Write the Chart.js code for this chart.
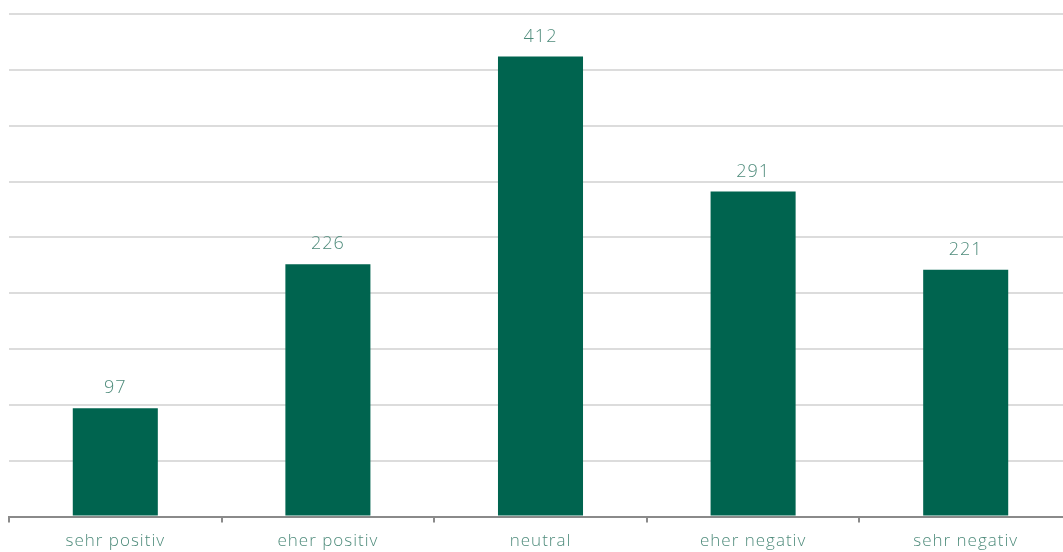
<!DOCTYPE html>
<html>
<head>
<meta charset="utf-8">
<script src="https://cdn.jsdelivr.net/npm/chart.js@4"></script>
<style>
  html, body { margin: 0; padding: 0; background: #fff; overflow: hidden; }
  #wrap { position: absolute; left: 0; top: 0; width: 1072px; height: 559px; }
</style>
</head>
<body>
<div id="wrap"><canvas id="barchart"></canvas></div>
<script>
var categories = ["sehr positiv", "eher positiv", "neutral", "eher negativ", "sehr negativ"]
var counts = [97, 226, 412, 291, 221]

var barColor = "#00644F"
var textColor = "#4E8B7B"
var fontFamily = "'Open Sans', sans-serif"

// the original font is wide and airy, so spread the letters a little
var spacing = {
    id: "spacing",
    beforeDraw: function (chart) {
        chart.ctx.letterSpacing = "1px"
    }
}

// draws the number above each bar
var valueLabels = {
    id: "valueLabels",
    afterDatasetsDraw: function (chart) {
        var ctx = chart.ctx
        var meta = chart.getDatasetMeta(0)
        ctx.save()
        ctx.font = "300 18px " + fontFamily
        ctx.fillStyle = textColor
        ctx.textAlign = "center"
        ctx.textBaseline = "bottom"
        meta.data.forEach(function (bar, i) {
            ctx.fillText(counts[i], bar.x, bar.y - 11)
        })
        ctx.restore()
    }
}

var ctx = document.getElementById("barchart").getContext("2d")
var chart = new Chart(ctx, {
    type: "bar",
    data: {
        labels: categories,
        datasets: [{
            data: counts,
            backgroundColor: barColor,
            barPercentage: 0.8,
            categoryPercentage: 0.5
        }]
    },
    options: {
        responsive: true,
        maintainAspectRatio: false,
        animation: false,
        layout: { padding: { left: 9, top: 14, right: 0, bottom: 0 } },
        plugins: {
            legend: { display: false },
            tooltip: { enabled: false }
        },
        scales: {
            x: {
                border: { color: "#8a8a8a", width: 2 },
                grid: {
                    drawOnChartArea: false,
                    drawTicks: true,
                    tickLength: 6,
                    color: "#8a8a8a",
                    lineWidth: 2
                },
                ticks: {
                    color: textColor,
                    padding: 8,
                    font: { family: fontFamily, size: 17, weight: "300" }
                }
            },
            y: {
                min: 0,
                max: 450,
                ticks: { display: false, stepSize: 50 },
                border: { display: false },
                grid: { color: "#dcdcdc", lineWidth: 2, drawTicks: false },
                afterFit: function (scale) { scale.width = 0 }
            }
        }
    },
    plugins: [spacing, valueLabels]
})
</script>
</body>
</html>
